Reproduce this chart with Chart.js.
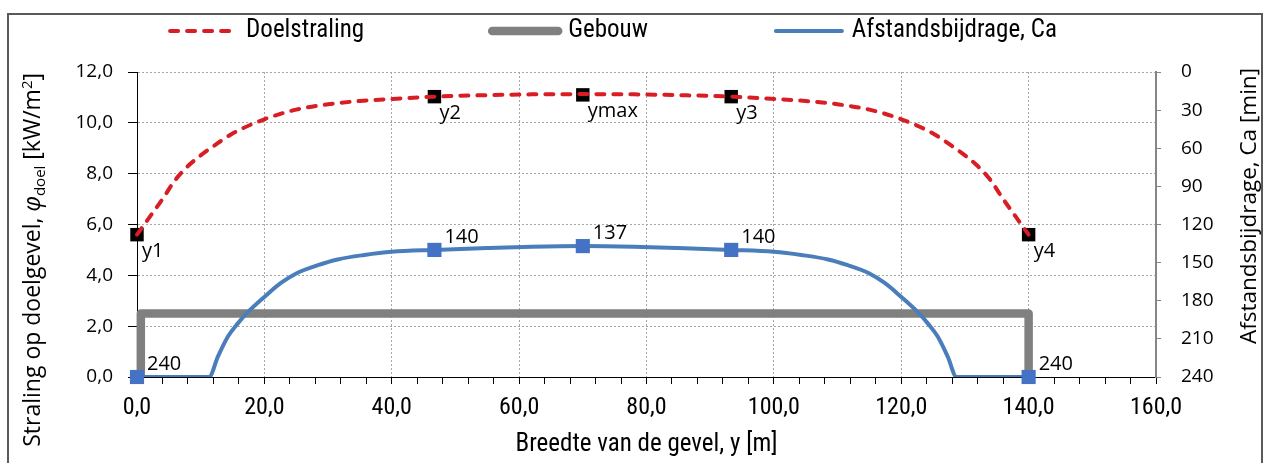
<!DOCTYPE html>
<html>
<head>
<meta charset="utf-8">
<script src="https://cdn.jsdelivr.net/npm/chart.js@4.4.1/dist/chart.umd.min.js"></script>
<style>
  html, body { margin: 0; padding: 0; background: #fff; }
  #wrap { position: relative; width: 1267px; height: 463px; }
</style>
</head>
<body>
<div id="wrap"><canvas id="chart" width="1267" height="463"></canvas></div>
<script>
const posX = [0, 46.7, 70, 93.3, 140];
const posNames = ['y1', 'y2', 'ymax', 'y3', 'y4'];
const doelAtPos = [5.6, 11.03, 11.1, 11.03, 5.6];
const caAtPos = [240, 140, 137, 140, 240];

// Doelstraling curve (kW/m2)
const doelX = [0, 2, 4, 6, 8, 10, 12, 15, 20, 25, 30, 35, 40, 46.7, 55, 62, 70,
               78, 85, 93.3, 100, 105, 110, 115, 120, 125, 128, 130, 132, 134, 136, 138, 140];
const doelY = [5.6, 6.3, 7.0, 7.75, 8.3, 8.72, 9.08, 9.58, 10.14, 10.52, 10.73, 10.86, 10.94, 11.03, 11.09, 11.12, 11.13,
               11.12, 11.09, 11.03, 10.94, 10.86, 10.73, 10.52, 10.14, 9.58, 9.08, 8.72, 8.3, 7.75, 7.0, 6.3, 5.6];

// Afstandsbijdrage curve (min, right axis)
const caX = [0, 11.3, 12.7, 14.3, 15.8, 17.4, 20, 22.6, 25, 28.4, 31.5, 35.7, 40, 46.7, 55, 62, 70,
             78, 85, 93.3, 100, 104.3, 108.5, 111.6, 115, 117.4, 120, 122.6, 124.2, 125.7, 127.3, 128.7, 140];
const caY = [240, 240, 224, 208, 198, 189, 177, 166, 158.5, 152, 147.5, 144, 141.5, 140, 138.5, 137.5, 137,
             137.5, 138.5, 140, 141.5, 144, 147.5, 152, 158.5, 166, 177, 189, 198, 208, 224, 240, 240];

// Gebouw outline
const gebouwX = [0.6, 0.6, 140, 140];
const gebouwY = [0, 2.5, 2.5, 0];

const RED = '#d81e24', GRAY = '#808080', BLUE = '#4a7ebb', BLUE_PT = '#4472c4';
const SANS = "'Open Sans', 'Noto Sans', sans-serif";
const NARROW = "'Roboto Condensed', 'Open Sans Condensed', sans-serif";

const comma = v => v.toFixed(1).replace('.', ',');
const pts = (xs, ys) => xs.map((x, i) => ({ x: x, y: ys[i] }));

const overlay = {
  id: 'overlay',
  afterDatasetsDraw(chart) {
    const ctx = chart.ctx;
    ctx.save();
    ctx.font = `20px ${SANS}`;
    ctx.fillStyle = '#000';
    ctx.textAlign = 'left';
    ctx.textBaseline = 'alphabetic';
    chart.getDatasetMeta(3).data.forEach((p, i) => ctx.fillText(posNames[i], p.x + 5, p.y + 22));
    chart.getDatasetMeta(4).data.forEach((p, i) => ctx.fillText(String(caAtPos[i]), p.x + 10, p.y - 7));
    ctx.restore();
  },
  afterDraw(chart) {
    const ctx = chart.ctx;
    ctx.save();
    // outer frame
    ctx.strokeStyle = '#595959';
    ctx.lineWidth = 2;
    ctx.strokeRect(8, 14, 1254, 470);

    // legend
    ctx.font = `25px ${NARROW}`;
    ctx.textBaseline = 'middle';
    ctx.textAlign = 'left';
    const items = [0, 1, 2].map(i => chart.data.datasets[i]);
    const lineLen = 72, gap = 7, spacing = 125;
    let total = 0;
    items.forEach((d, i) => { total += lineLen + gap + ctx.measureText(d.label).width + (i < items.length - 1 ? spacing : 0); });
    let x = 612 - total / 2;
    const ly = 31;
    items.forEach(d => {
      ctx.beginPath();
      ctx.strokeStyle = d.borderColor;
      ctx.lineWidth = d.borderWidth;
      ctx.lineCap = 'round';
      ctx.setLineDash(d.borderDash || []);
      ctx.moveTo(x + 3, ly);
      ctx.lineTo(x + lineLen - 3, ly);
      ctx.stroke();
      ctx.setLineDash([]);
      x += lineLen + gap;
      ctx.fillStyle = '#000';
      ctx.fillText(d.label, x, ly);
      x += ctx.measureText(d.label).width + spacing;
    });

    // left axis title (rotated, with sub/superscript)
    const parts = [
      { t: 'Straling op doelgevel, ', f: `23px ${SANS}`, dy: 0 },
      { t: 'φ', f: `italic 23px ${SANS}`, dy: 0 },
      { t: 'doel', f: `15px ${SANS}`, dy: 5 },
      { t: ' [kW/m', f: `23px ${SANS}`, dy: 0 },
      { t: '2', f: `15px ${SANS}`, dy: -8 },
      { t: ']', f: `23px ${SANS}`, dy: 0 }
    ];
    let w = 0;
    parts.forEach(p => { ctx.font = p.f; w += ctx.measureText(p.t).width; });
    ctx.save();
    ctx.translate(40, 73);
    ctx.rotate(-Math.PI / 2);
    ctx.textAlign = 'left';
    ctx.textBaseline = 'alphabetic';
    ctx.fillStyle = '#000';
    let px = -w;
    parts.forEach(p => { ctx.font = p.f; ctx.fillText(p.t, px, p.dy); px += ctx.measureText(p.t).width; });
    ctx.restore();

    // right axis title
    ctx.save();
    ctx.translate(1256, 68);
    ctx.rotate(-Math.PI / 2);
    ctx.font = `22.5px ${SANS}`;
    ctx.textAlign = 'right';
    ctx.textBaseline = 'alphabetic';
    ctx.fillStyle = '#000';
    ctx.fillText('Afstandsbijdrage, Ca [min]', 0, 0);
    ctx.restore();
    ctx.restore();
  }
};

new Chart(document.getElementById('chart'), {
  type: 'line',
  data: {
    datasets: [
      {
        label: 'Doelstraling',
        data: pts(doelX, doelY),
        yAxisID: 'y',
        borderColor: RED,
        borderWidth: 4,
        borderDash: [8, 9],
        borderCapStyle: 'round',
        cubicInterpolationMode: 'monotone',
        pointRadius: 0,
        clip: false,
        order: 2
      },
      {
        label: 'Gebouw',
        data: pts(gebouwX, gebouwY),
        yAxisID: 'y',
        borderColor: GRAY,
        borderWidth: 8.5,
        borderJoinStyle: 'round',
        borderCapStyle: 'butt',
        tension: 0,
        pointRadius: 0,
        clip: false,
        order: 6
      },
      {
        label: 'Afstandsbijdrage, Ca',
        data: pts(caX, caY),
        yAxisID: 'y1',
        borderColor: BLUE,
        borderWidth: 4,
        cubicInterpolationMode: 'monotone',
        pointRadius: 0,
        order: 5
      },
      {
        label: 'posities',
        data: pts(posX, doelAtPos),
        yAxisID: 'y',
        showLine: false,
        pointStyle: 'rect',
        pointRadius: 9.5,
        pointBackgroundColor: '#000',
        pointBorderColor: '#000',
        pointBorderWidth: 0,
        clip: false,
        order: 3
      },
      {
        label: 'Ca posities',
        data: pts(posX, caAtPos),
        yAxisID: 'y1',
        showLine: false,
        pointStyle: 'rect',
        pointRadius: 10,
        pointBackgroundColor: BLUE_PT,
        pointBorderColor: BLUE_PT,
        pointBorderWidth: 0,
        clip: false,
        order: 4
      }
    ]
  },
  options: {
    responsive: false,
    animation: false,
    events: [],
    layout: { padding: { left: 0, right: 43, top: 72, bottom: 0 } },
    plugins: { legend: { display: false }, tooltip: { enabled: false } },
    scales: {
      x: {
        type: 'linear',
        min: 0, max: 160,
        ticks: {
          stepSize: 4,
          autoSkip: false,
          maxRotation: 0,
          padding: 10,
          color: '#000',
          font: { family: NARROW, size: 24 },
          callback: v => (v % 20 === 0 ? comma(v) : '')
        },
        grid: {
          color: c => (c.tick && c.tick.value % 20 === 0 && c.tick.value > 0 && c.tick.value < 160 ? '#a6a6a6' : 'rgba(0,0,0,0)'),
          tickColor: '#000',
          tickLength: 7
        },
        border: { color: '#000', width: 1, dash: [2, 2] },
        title: {
          display: true,
          text: 'Breedte van de gevel, y [m]',
          color: '#000',
          font: { family: NARROW, size: 25 },
          padding: { top: 0, bottom: 3 }
        },
        afterFit: s => { s.height = 86; }
      },
      y: {
        position: 'left',
        min: 0, max: 12,
        ticks: {
          stepSize: 2,
          padding: 15,
          color: '#000',
          font: { family: SANS, size: 19 },
          callback: v => comma(v)
        },
        grid: {
          color: c => (c.tick && c.tick.value === 0 ? 'rgba(0,0,0,0)' : '#a6a6a6'),
          tickColor: '#000',
          tickLength: 9
        },
        border: { color: '#000', width: 1, dash: [2, 2] },
        afterFit: s => { s.width = 137; }
      },
      y1: {
        position: 'right',
        reverse: true,
        min: 0, max: 240,
        ticks: {
          stepSize: 30,
          padding: 20,
          color: '#000',
          font: { family: SANS, size: 19 }
        },
        grid: { drawOnChartArea: false, tickColor: '#868686', tickLength: 5 },
        border: { color: '#868686', width: 2 },
        afterFit: s => { s.width = 68; }
      }
    }
  },
  plugins: [overlay]
});
</script>
</body>
</html>
